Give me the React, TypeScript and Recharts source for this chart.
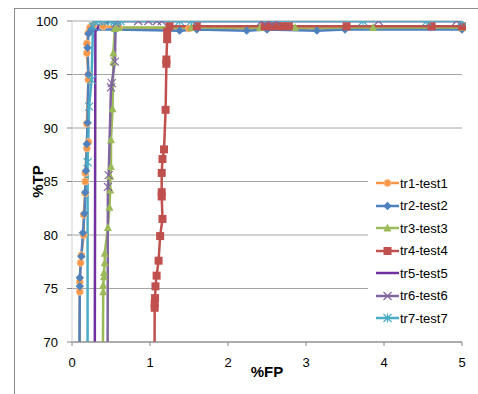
import React from 'react';
import { LineChart, Line, XAxis, YAxis, CartesianGrid, Legend, Label } from 'recharts';

// [%FP, %TP] pairs
const tr1: number[][] = [[0.09, 60], [0.1, 74.7], [0.1, 75.6], [0.11, 77.4], [0.12, 78.1], [0.15, 80], [0.15, 81.9], [0.17, 83.9], [0.17, 85], [0.17, 85.8], [0.19, 88.1], [0.21, 88.7], [0.19, 90.4], [0.21, 94.5], [0.21, 95], [0.19, 97], [0.19, 97.9], [0.21, 98.9], [0.23, 99.4], [0.27, 99.6], [0.4, 99.5], [0.6, 99.4], [1.5, 99.3], [2.5, 99.3], [5, 99.3]];
const tr2: number[][] = [[0.09, 60], [0.1, 75.2], [0.1, 76], [0.12, 78], [0.14, 80.2], [0.16, 82], [0.17, 84], [0.18, 86], [0.19, 88.5], [0.2, 90.5], [0.21, 95], [0.2, 97.5], [0.21, 98.8], [0.25, 99.2], [0.55, 99.2], [1.38, 99.1], [1.6, 99.2], [2.24, 99.1], [2.5, 99.2], [3.14, 99.1], [3.5, 99.2], [5, 99.2]];
const tr3: number[][] = [[0.39, 60], [0.4, 74.7], [0.4, 75.3], [0.41, 76.1], [0.41, 76.5], [0.42, 77.4], [0.42, 78.3], [0.46, 80.7], [0.48, 82.6], [0.49, 84.2], [0.49, 85.5], [0.5, 86.4], [0.5, 88.9], [0.52, 91.8], [0.53, 96.2], [0.53, 97], [0.55, 99.3], [0.6, 99.4], [1.53, 99.4], [2.41, 99.4], [2.86, 99.4], [3.86, 99.4], [5, 99.4]];
const tr4: number[][] = [[1.055, 60], [1.06, 73.2], [1.06, 73.6], [1.065, 74.1], [1.07, 75.2], [1.085, 76.2], [1.11, 77.6], [1.13, 79.9], [1.16, 81.5], [1.15, 83.6], [1.15, 84.0], [1.15, 85.8], [1.16, 87.1], [1.18, 88.0], [1.2, 91.7], [1.21, 96.0], [1.21, 96.4], [1.22, 98.3], [1.22, 99.0], [1.25, 99.5], [1.6, 99.5], [2.47, 99.5], [2.55, 99.5], [2.63, 99.5], [2.7, 99.5], [2.78, 99.5], [3.52, 99.5], [4.61, 99.5], [5, 99.5]];
const tr5: number[][] = [[0.29, 60], [0.3, 99], [0.35, 99.6], [0.5, 100], [5, 100]];
const tr6: number[][] = [[0.455, 60], [0.46, 84.5], [0.47, 85.6], [0.5, 93.8], [0.51, 94.2], [0.55, 96.2], [0.56, 99.8], [0.58, 100], [0.85, 100], [0.98, 100], [1.09, 100], [1.15, 100], [2.43, 100], [2.52, 100], [2.62, 100], [3.93, 100], [4.93, 100]];
const tr7: number[][] = [[0.2, 60], [0.2, 86.8], [0.22, 92], [0.25, 94.5], [0.27, 99.5], [0.28, 100], [0.35, 100], [0.42, 100], [0.5, 100], [0.55, 100], [0.62, 100], [1.38, 100], [1.53, 100], [3.73, 100], [4.55, 100], [5, 100]];

const seriesNames = ['tr1-test1', 'tr2-test2', 'tr3-test3', 'tr4-test4', 'tr5-test5', 'tr6-test6', 'tr7-test7'];
const xTicks = [0, 1, 2, 3, 4, 5];
const yTicks = [70, 75, 80, 85, 90, 95, 100];

const seriesData = [tr1, tr2, tr3, tr4, tr5, tr6, tr7];
const colors = ['#F79646', '#4F81BD', '#9BBB59', '#C0504D', '#7030A0', '#8064A2', '#4BACC6'];
const shapes = ['circle', 'diamond', 'triangle', 'square', 'none', 'x', 'star'];

const toRows = (pts: number[][]) => pts.map(([x, y]) => ({ x, y }));

const Marker = ({ shape, color, cx, cy }: any) => {
  switch (shape) {
    case 'circle':
      return <circle cx={cx} cy={cy} r={3.5} fill={color} stroke="#FAC090" strokeWidth={0.8} />;
    case 'diamond':
      return <polygon points={`${cx},${cy - 4.2} ${cx + 4.2},${cy} ${cx},${cy + 4.2} ${cx - 4.2},${cy}`} fill={color} />;
    case 'triangle':
      return <polygon points={`${cx},${cy - 4.5} ${cx + 4},${cy + 3.5} ${cx - 4},${cy + 3.5}`} fill={color} />;
    case 'square':
      return <rect x={cx - 4} y={cy - 4} width={8} height={8} fill={color} />;
    case 'x':
      return (
        <g stroke={color} strokeWidth={1.2}>
          <line x1={cx - 4} y1={cy - 4} x2={cx + 4} y2={cy + 4} />
          <line x1={cx - 4} y1={cy + 4} x2={cx + 4} y2={cy - 4} />
        </g>
      );
    case 'star':
      return (
        <g stroke={color} strokeWidth={1.2}>
          <line x1={cx - 4} y1={cy - 4} x2={cx + 4} y2={cy + 4} />
          <line x1={cx - 4} y1={cy + 4} x2={cx + 4} y2={cy - 4} />
          <line x1={cx} y1={cy - 4.5} x2={cx} y2={cy + 4.5} />
        </g>
      );
    default:
      return null;
  }
};

const makeDot = (i: number) => (props: any) => {
  const { cx, cy, index, value } = props;
  const v = Array.isArray(value) ? value[1] : value;
  if (shapes[i] === 'none' || v < 70 || cx == null || cy == null) return <g key={`d${i}-${index}`} />;
  return (
    <g key={`d${i}-${index}`}>
      <Marker shape={shapes[i]} color={colors[i]} cx={cx} cy={cy} />
    </g>
  );
};

const renderLegend = () => (
  <div style={{ background: '#fff', padding: '4px 0', fontFamily: '"Liberation Sans", Arial, sans-serif', fontSize: 13, color: '#000' }}>
    {seriesNames.map((name, i) => (
      <div key={name} style={{ display: 'flex', alignItems: 'center', height: 22.5 }}>
        <svg width={24} height={12} style={{ marginLeft: 8 }}>
          <line x1={0} y1={6} x2={23} y2={6} stroke={colors[i]} strokeWidth={2.5} />
          <Marker shape={shapes[i]} color={colors[i]} cx={11.5} cy={6} />
        </svg>
        <span style={{ marginLeft: 0 }}>{name}</span>
      </div>
    ))}
  </div>
);

export default function App() {
  return (
    <div style={{ position: 'fixed', left: 0, top: 0, width: 478, height: 394, overflow: 'hidden', background: '#fff' }}>
      <div style={{ position: 'absolute', left: 14, top: 8, width: 600, height: 600, borderLeft: '1px solid #8c8c8c', borderTop: '1px solid #8c8c8c' }} />
      <LineChart
        width={478}
        height={394}
        margin={{ top: 21, right: 16, left: 0, bottom: 0 }}
        style={{ fontFamily: '"Liberation Sans", Arial, sans-serif' }}
      >
        <CartesianGrid vertical={false} stroke="#a6a6a6" />
        <XAxis
          type="number"
          dataKey="x"
          domain={[0, 5]}
          ticks={xTicks}
          height={52}
          stroke="#868686"
          tickSize={4}
          tickMargin={12}
          tick={{ fill: '#000', fontSize: 13 }}
        >
          <Label value="%FP" position="center" dy={4} style={{ fontSize: 15, fontWeight: 'bold', fill: '#000' }} />
        </XAxis>
        <YAxis
          type="number"
          domain={[70, 100]}
          ticks={yTicks}
          allowDataOverflow
          width={72}
          axisLine={{ stroke: '#d0d0d0' }}
          tickLine={{ stroke: '#868686' }}
          tickSize={5}
          tickMargin={9}
          tick={{ fill: '#000', fontSize: 13 }}
        >
          <Label value="%TP" angle={-90} position="center" dx={2} style={{ fontSize: 15, fontWeight: 'bold', fill: '#000' }} />
        </YAxis>
        <Legend
          layout="vertical"
          align="center"
          verticalAlign="middle"
          content={renderLegend}
          wrapperStyle={{ position: 'absolute', left: 368, top: 168, width: 104 }}
        />
        {seriesData.map((pts, i) => (
          <Line
            key={seriesNames[i]}
            name={seriesNames[i]}
            data={toRows(pts)}
            dataKey="y"
            type="linear"
            stroke={colors[i]}
            strokeWidth={2.5}
            dot={makeDot(i)}
            activeDot={false}
            isAnimationActive={false}
          />
        ))}
      </LineChart>
    </div>
  );
}
